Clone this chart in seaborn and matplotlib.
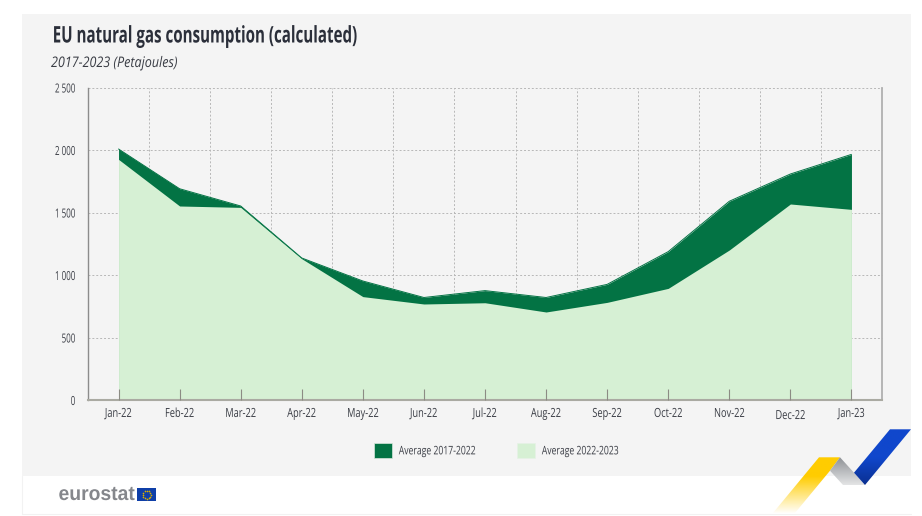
import numpy as np
import pandas as pd
import matplotlib.pyplot as plt
import seaborn as sns
from matplotlib.patches import Patch, Polygon, Rectangle
from matplotlib.patheffects import AbstractPathEffect
from matplotlib.transforms import Affine2D

# Data (Petajoules)
MONTHS = ['Jan-22', 'Feb-22', 'Mar-22', 'Apr-22', 'May-22', 'Jun-22', 'Jul-22',
          'Aug-22', 'Sep-22', 'Oct-22', 'Nov-22', 'Dec-22', 'Jan-23']
AVG_2017_2022 = [2008, 1690, 1552, 1136, 952, 820, 875, 820, 925, 1187, 1590, 1808, 1965]
AVG_2022_2023 = [1925, 1552, 1541, 1130, 827, 768, 778, 704, 781, 893, 1200, 1568, 1525]
Y_TICKS = [0, 500, 1000, 1500, 2000, 2500]
Y_LABELS = ['0', '500', '1 000', '1 500', '2 000', '2 500']

DARK = '#037344'
LIGHT = '#d6f0d4'
PANEL = '#f4f4f4'
TEXT = '#3a3d45'
GRID = '#b8b8b8'
DASH = (0, (2, 2))
W, H = 922, 516


class Squeeze(AbstractPathEffect):
    # no condensed font is installed, so narrow the glyphs at draw time
    def __init__(self, sx, anchor='left'):
        super().__init__()
        self.sx = sx
        self.anchor = anchor

    def draw_path(self, renderer, gc, tpath, affine, rgbFace=None):
        ext = tpath.get_extents()
        x0 = {'left': ext.x0, 'center': (ext.x0 + ext.x1) / 2, 'right': ext.x1}[self.anchor]
        squeeze = Affine2D().translate(-x0, 0).scale(self.sx, 1).translate(x0, 0)
        renderer.draw_path(gc, tpath, squeeze + affine, rgbFace)


sns.set_theme(style='white')
plt.rcParams['font.family'] = ['Open Sans', 'DejaVu Sans']

df = pd.DataFrame({'pos': range(len(MONTHS)), 'dark': AVG_2017_2022, 'light': AVG_2022_2023})

fig = plt.figure(figsize=(W / 100, H / 100), dpi=100, facecolor='white')

# ── Background layer in pixel coordinates ──────────────
bg = fig.add_axes([0, 0, 1, 1], zorder=0)
bg.set_xlim(0, W)
bg.set_ylim(H, 0)
bg.axis('off')
bg.add_patch(Rectangle((22, 14), 889, 462, color=PANEL, lw=0))
bg.plot([22, 911], [514, 514], color='#f2f2f2', lw=0.8)
bg.plot([22, 22], [476, 514], color='#f2f2f2', lw=0.8)

title = bg.text(52, 36.5, 'EU natural gas consumption (calculated)', fontsize=16.5, fontweight='bold',
                color='#2b2f3a', va='center', ha='left')
title.set_path_effects([Squeeze(0.66)])
sub = bg.text(51, 63.5, '2017-2023 (Petajoules)', fontsize=10.5, style='italic',
              color=TEXT, va='center', ha='left')
sub.set_path_effects([Squeeze(0.86)])


def ribbon(points, colors, extent):
    # gradient image clipped to the ribbon shape
    cmap = plt.matplotlib.colors.LinearSegmentedColormap.from_list('r', colors)
    grad = np.linspace(0, 1, 64).reshape(-1, 1)
    im = bg.imshow(grad, cmap=cmap, extent=extent, aspect='auto', zorder=3)
    im.set_clip_path(Polygon(points, transform=bg.transData))


ribbon([(819, 457.3), (840, 457.3), (830, 470.7), (795, 513), (773, 513)],
       ['#ffcc00', '#ffcc00', '#ffe680', '#ffffff'], (770, 845, 514, 457))
ribbon([(840, 457.3), (854, 472.7), (865, 485), (843, 485), (830, 470.7)],
       ['#8f9296', '#e6e7e8'], (828, 866, 486, 457))
ribbon([(890, 429.3), (911, 429.3), (865, 485), (854, 472.7)],
       ['#1047cc', '#1047cc', '#0a2f8f'], (852, 912, 486, 429))
bg.set_xlim(0, W)
bg.set_ylim(H, 0)

# Eurostat logo
logo = bg.text(58.5, 494.5, 'eurostat', fontsize=14.5, fontweight='bold', color='#85878c',
               family=['Liberation Sans', 'DejaVu Sans'], va='center', ha='left')
logo.set_path_effects([Squeeze(0.96)])
bg.add_patch(Rectangle((137, 488), 19, 13, color='#0f3fa8', lw=0))
angles = np.linspace(0, 2 * np.pi, 12, endpoint=False)
bg.scatter(146.5 + 4 * np.cos(angles), 494.5 + 4 * np.sin(angles), s=1.5, color='#d9b100', lw=0)

# ── Chart ──────────────────────────────────────────────
ax = fig.add_axes([88 / W, 1 - 400 / H, 794 / W, 312.5 / H], zorder=1, facecolor=PANEL)
ax.set_axisbelow(False)

# grid sits under the areas, ticks stay over them
ax.vlines(df['pos'][:-1] + 0.5, 0, 2500, color=GRID, ls=DASH, lw=0.7, zorder=1)
ax.hlines(Y_TICKS, -0.5, 12.5, color=GRID, ls=DASH, lw=0.7, zorder=1, clip_on=False)
ax.fill_between(df['pos'], df['dark'], color=DARK, lw=0, zorder=1.5)
ax.fill_between(df['pos'], df['light'], color=LIGHT, lw=0, zorder=1.7)
sns.lineplot(data=df, x='pos', y='dark', color=DARK, lw=0.7, ax=ax, zorder=2)

ax.set_xlim(-0.5, 12.5)
ax.set_ylim(0, 2500)
ax.set_xlabel('')
ax.set_ylabel('')

ax.set_yticks(Y_TICKS, Y_LABELS)
ax.set_xticks(df['pos'], MONTHS)
ax.tick_params(axis='y', length=0, labelsize=9, labelcolor=TEXT, pad=9)
ax.tick_params(axis='x', bottom=True, direction='in', length=8, width=0.8, color='#8c8c84',
               labelsize=9, labelcolor=TEXT, pad=5)
ax.xaxis.get_major_ticks()[11].set_pad(6.5)

for label in ax.get_xticklabels():
    label.set_path_effects([Squeeze(0.74, 'center')])
for label in ax.get_yticklabels():
    label.set_path_effects([Squeeze(0.64, 'right')])

sns.despine(ax=ax, top=True, right=False)
ax.spines['left'].set(color='#8c8c8c', lw=1)
ax.spines['right'].set(color='#b0b0b0', lw=1.3)
ax.spines['bottom'].set(color='#aaaaa2', lw=1.5)

# ── Legend ─────────────────────────────────────────────
handles = [Patch(facecolor=DARK, edgecolor='#d8e8dc', lw=0.5, label='Average 2017-2022'),
           Patch(facecolor=LIGHT, edgecolor='#e6f2e6', lw=0.5, label='Average 2022-2023')]
leg = fig.legend(handles=handles, ncol=2, frameon=False, loc='center left',
                 bbox_to_anchor=(374 / W, 1 - 450.5 / H), borderpad=0, borderaxespad=0,
                 fontsize=8.5, labelcolor=TEXT, handlelength=1.5, handleheight=1.65,
                 handletextpad=0.6, columnspacing=1.1)
for t in leg.get_texts():
    t.set_path_effects([Squeeze(0.73)])

fig.savefig('out.png', dpi=100, facecolor='white')
